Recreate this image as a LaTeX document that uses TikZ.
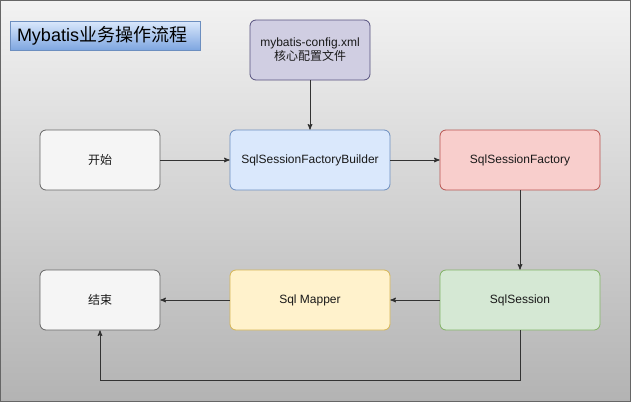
\documentclass[tikz,border=0pt]{standalone}
\usepackage{fontspec}
\setmainfont{Liberation Sans}
\newfontfamily\cjk{Noto Sans CJK SC}
\usetikzlibrary{arrows,positioning}

\definecolor{bgtop}{HTML}{F2F2F2}
\definecolor{bgbottom}{HTML}{B3B3B3}
\definecolor{bluefill}{HTML}{DAE8FC}
\definecolor{blueline}{HTML}{6C8EBF}
\definecolor{bluedark}{HTML}{7EA6E0}
\definecolor{purplefill}{HTML}{D0CEE2}
\definecolor{purpleline}{HTML}{56517E}
\definecolor{grayfill}{HTML}{F5F5F5}
\definecolor{grayline}{HTML}{666666}
\definecolor{redfill}{HTML}{F8CECC}
\definecolor{redline}{HTML}{B85450}
\definecolor{yellowfill}{HTML}{FFF2CC}
\definecolor{yellowline}{HTML}{D6B656}
\definecolor{greenfill}{HTML}{D5E8D4}
\definecolor{greenline}{HTML}{82B366}
\definecolor{edgecolor}{HTML}{333333}

\begin{document}
\begin{tikzpicture}[x=1pt,y=1pt,>=stealth',auto,node distance=210pt,
                    step node/.style={rectangle,rounded corners=6pt,draw,line width=0.8pt,
                      minimum height=60pt,font=\fontsize{12}{14}\selectfont,text=black!90},
                    small node/.style={step node,minimum width=120pt},
                    wide node/.style={step node,minimum width=160pt}]

  \useasboundingbox (0,0) rectangle (631,-402);
  \shade[top color=bgtop,bottom color=bgbottom,draw=grayline,line width=0.8pt]
    (0.5,-0.5) rectangle (630.5,-401.5);

  % title
  \node[shade,top color=bluefill,bottom color=bluedark,draw=blueline,line width=0.8pt,
        minimum width=190pt,minimum height=29pt,text width=176pt,inner xsep=7pt,
        align=left,font=\fontsize{18}{20}\selectfont] (title) at (105,-35.5)
        {Mybatis{\cjk 业务操作流程}};

  \node[small node,draw=grayline,fill=grayfill] (start) at (100,-160) {\cjk 开始};
  \node[wide node,draw=blueline,fill=bluefill] (builder) [right of=start] {SqlSessionFactoryBuilder};
  \node[wide node,draw=redline,fill=redfill] (factory) [right of=builder] {SqlSessionFactory};
  \node[wide node,draw=greenline,fill=greenfill] (session) [below of=factory,node distance=140pt] {SqlSession};
  \node[wide node,draw=yellowline,fill=yellowfill] (mapper) [left of=session] {Sql Mapper};
  \node[small node,draw=grayline,fill=grayfill] (end) [left of=mapper] {\cjk 结束};
  \node[small node,draw=purpleline,fill=purplefill,align=center,font=\fontsize{12}{14}\selectfont]
    (config) [above of=builder,node distance=110pt] {mybatis-config.xml\\{\cjk 核心配置文件}};

  \coordinate (loop) at (520,-380);

  \path[->,draw=edgecolor,line width=1pt]
    (config) edge (builder)
    (start) edge (builder)
    (builder) edge (factory)
    (factory) edge (session)
    (session) edge (mapper)
    (mapper) edge (end);
  \draw[->,edgecolor,line width=1pt] (session) -- (loop) -| (end);
\end{tikzpicture}
\end{document}
